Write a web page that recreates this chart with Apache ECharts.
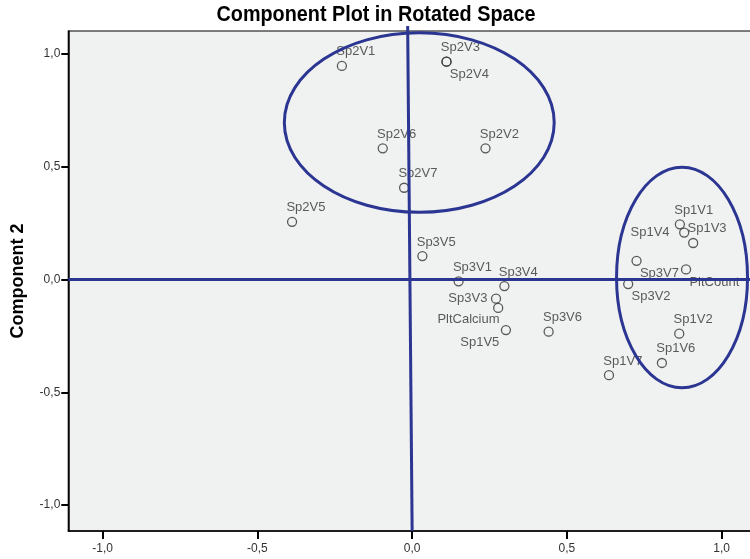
<!DOCTYPE html>
<html>
<head>
<meta charset="utf-8">
<script src="https://cdn.jsdelivr.net/npm/echarts@6/dist/echarts.min.js"></script>
<style>
  html, body { margin: 0; padding: 0; background: #ffffff; }
  #chart { width: 750px; height: 559px; }
</style>
</head>
<body>
<div id="chart"></div>
<script>
// Variable names and their loadings on the two rotated components
const variableNames = [
  'Sp2V1', 'Sp2V3', 'Sp2V4', 'Sp2V6', 'Sp2V2', 'Sp2V7', 'Sp2V5',
  'Sp3V5', 'Sp3V1', 'Sp3V4', 'Sp3V3', 'PltCalcium', 'Sp1V5', 'Sp3V6',
  'Sp1V1', 'Sp1V4', 'Sp1V3', 'Sp3V7', 'PltCount', 'Sp3V2', 'Sp1V2', 'Sp1V6', 'Sp1V7'
];
const component1 = [
  -0.227, 0.111, 0.111, -0.095, 0.237, -0.026, -0.388,
  0.033, 0.150, 0.298, 0.271, 0.278, 0.303, 0.441,
  0.865, 0.879, 0.908, 0.725, 0.885, 0.698, 0.863, 0.807, 0.636
];
const component2 = [
  0.947, 0.966, 0.966, 0.582, 0.582, 0.407, 0.256,
  0.104, -0.008, -0.029, -0.085, -0.126, -0.224, -0.231,
  0.245, 0.208, 0.162, 0.083, 0.045, -0.020, -0.240, -0.370, -0.424
];
const tickValues = [-1, -0.5, 0, 0.5, 1];

// Group outlines (centre and semi-axes in component units)
const ellipseCenters = [[0.023, 0.696], [0.872, 0.009]];
const ellipseRadii = [[0.436, 0.398], [0.2116, 0.489]];

// Reference lines through the origin
const refLineVertical = [[-0.0145, 1.124], [0, -1.115]];
const refLineHorizontal = [[-1.111, 0], [1.111, 0]];

const lineColor = '#2b3592';

// Label placement per point (default: above, starting at the marker)
const labelPlacement = {
  'Sp2V4': 'belowRight',
  'Sp3V7': 'belowRight',
  'PltCount': 'belowRight',
  'Sp3V2': 'belowRight',
  'Sp1V4': 'leftFar',
  'Sp3V3': 'left',
  'PltCalcium': 'belowLeftNear',
  'Sp1V5': 'belowLeft'
};
const placementStyles = {
  above: { position: [-0.5, -9], align: 'left' },
  belowRight: { position: [8.5, 18], align: 'left' },
  leftFar: { position: [-9.5, 4.5], align: 'right' },
  left: { position: [-3.5, 5], align: 'right' },
  belowLeftNear: { position: [6.5, 16.5], align: 'right' },
  belowLeft: { position: [-1.5, 17.5], align: 'right' }
};

const points = variableNames.map((name, i) => {
  const p = placementStyles[labelPlacement[name] || 'above'];
  return {
    name: name,
    value: [component1[i], component2[i]],
    label: { position: p.position, align: p.align }
  };
});

const fmt = v => v.toFixed(1).replace('.', ',');

const chart = echarts.init(document.getElementById('chart'), null, { renderer: 'canvas' });

chart.setOption({
  animation: false,
  backgroundColor: '#ffffff',
  grid: {
    left: 68.3,
    top: 31,
    right: -6,
    bottom: 28,
    outerBoundsMode: 'none',
    containLabel: false,
    show: true,
    backgroundColor: '#f0f1f1',
    borderColor: '#000000',
    borderWidth: 1.2
  },
  xAxis: {
    type: 'value',
    min: -1.111,
    max: 1.111,
    splitLine: { show: false },
    axisLine: { show: true, onZero: false, lineStyle: { color: '#000000', width: 1.5 } },
    axisTick: { show: true, length: 8, customValues: tickValues, lineStyle: { color: '#000000', width: 2 } },
    axisLabel: {
      customValues: tickValues,
      formatter: fmt,
      margin: 12,
      color: '#333333',
      fontSize: 12,
      fontFamily: "'Liberation Sans', Arial, sans-serif"
    }
  },
  yAxis: {
    type: 'value',
    min: -1.115,
    max: 1.102,
    name: 'Component 2',
    nameLocation: 'middle',
    nameRotate: 90,
    nameGap: 41,
    nameTextStyle: {
      fontFamily: "'Liberation Sans', Arial, sans-serif",
      fontWeight: 'bold',
      fontSize: 18,
      color: '#000000'
    },
    splitLine: { show: false },
    axisLine: { show: true, onZero: false, lineStyle: { color: '#000000', width: 1.5 } },
    axisTick: { show: true, length: 7, customValues: tickValues, lineStyle: { color: '#000000', width: 2 } },
    axisLabel: {
      customValues: tickValues,
      formatter: fmt,
      margin: 8,
      color: '#333333',
      fontSize: 12,
      fontFamily: "'Liberation Sans', Arial, sans-serif"
    }
  },
  series: [
    {
      type: 'scatter',
      symbol: 'circle',
      symbolSize: 9,
      z: 2,
      itemStyle: { color: 'rgba(0,0,0,0)', borderColor: '#333333', borderWidth: 1.3 },
      label: {
        show: true,
        formatter: '{b}',
        verticalAlign: 'middle',
        color: '#333333',
        fontSize: 13,
        fontFamily: "'Liberation Sans', Arial, sans-serif"
      },
      emphasis: { disabled: true },
      data: points
    },
    {
      type: 'line',
      data: refLineVertical,
      symbol: 'none',
      clip: false,
      z: 5,
      silent: true,
      lineStyle: { color: lineColor, width: 3 }
    },
    {
      type: 'line',
      data: refLineHorizontal,
      symbol: 'none',
      clip: false,
      z: 5,
      silent: true,
      lineStyle: { color: lineColor, width: 3 }
    }
  ]
});

// Outline the two variable groups as ellipses on the same axes
const outlines = ellipseCenters.map((c, i) => {
  const center = chart.convertToPixel({ gridIndex: 0 }, c);
  const corner = chart.convertToPixel({ gridIndex: 0 }, [c[0] + ellipseRadii[i][0], c[1] + ellipseRadii[i][1]]);
  return {
    type: 'ellipse',
    silent: true,
    z: 100,
    shape: { cx: center[0], cy: center[1], rx: corner[0] - center[0], ry: center[1] - corner[1] },
    style: { fill: 'none', stroke: lineColor, lineWidth: 3 }
  };
});

// Chart title, set in a slightly condensed bold face
const titleText = {
  type: 'text',
  silent: true,
  x: 376,
  y: 4,
  scaleX: 0.9,
  style: {
    text: 'Component Plot in Rotated Space',
    font: "bold 22px 'Liberation Sans', Arial, sans-serif",
    fill: '#000000',
    align: 'center',
    verticalAlign: 'top'
  }
};

chart.setOption({ graphic: outlines.concat([titleText]) });
</script>
</body>
</html>
